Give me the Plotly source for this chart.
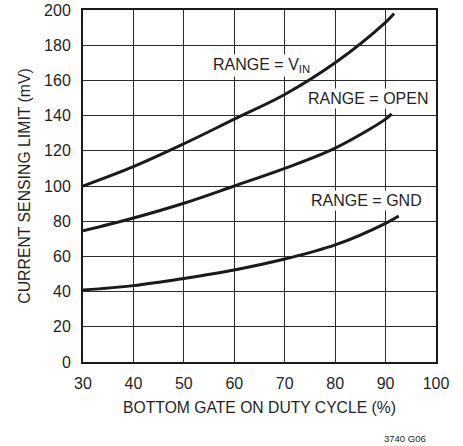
import plotly.graph_objects as go

duty = [30, 40, 50, 60, 70, 80, 90]
vin_x = duty + [91.7]
vin_y = [100, 111, 124, 138, 152, 170, 193, 198]
open_x = duty + [91.2]
open_y = [74.5, 81.8, 90.2, 100, 110, 121.5, 138, 141]
gnd_x = duty + [92.6]
gnd_y = [40.9, 43.4, 47.5, 52.3, 58.5, 66.5, 78.8, 83]

x_ticks = [30, 40, 50, 60, 70, 80, 90, 100]
y_ticks = [0, 20, 40, 60, 80, 100, 120, 140, 160, 180, 200]

FONT = "Liberation Sans, Arial, Helvetica, sans-serif"
TXT = "#231f20"

W, H = 463, 446
L, R, T, B = 83, 27, 10, 84
pw, ph = W - L - R, H - T - B

fig = go.Figure()
for xs, ys in [(vin_x, vin_y), (open_x, open_y), (gnd_x, gnd_y)]:
    fig.add_trace(go.Scatter(x=xs, y=ys, mode="lines",
                             line=dict(color="#1a1a1a", width=3, shape="spline", smoothing=1.0),
                             showlegend=False, hoverinfo="skip"))

axis_common = dict(showgrid=True, gridcolor="#2b2b2b", gridwidth=1,
                   showline=True, linecolor="#1a1a1a", linewidth=2, mirror=True,
                   zeroline=False, ticks="", automargin=False, ticklabeloverflow="allow",
                   tickfont=dict(family=FONT, size=16, color=TXT))

fig.update_xaxes(range=[30, 100], tickvals=x_ticks, ticklabelstandoff=6,
                 title_text="BOTTOM GATE ON DUTY CYCLE (%)", title_standoff=11,
                 title_font=dict(family=FONT, size=15.7, color=TXT), **axis_common)
fig.update_yaxes(range=[0, 200], tickvals=y_ticks, ticklabelstandoff=7,
                 title_text="CURRENT SENSING LIMIT (mV)", title_standoff=10,
                 title_font=dict(family=FONT, size=15.8, color=TXT), **axis_common)


def px(xp, yp):
    # reference pixel coords -> paper coords
    return (xp - L) / pw, (H - B - yp) / ph


ann_font = dict(family=FONT, size=16, color=TXT)
labels = [("RANGE = V<sub>IN</sub>", 261, 66), ("RANGE = OPEN", 368, 98.7), ("RANGE = GND", 366, 200)]
for text, xp, yp in labels:
    ax, ay = px(xp, yp)
    fig.add_annotation(x=ax, y=ay, xref="paper", yref="paper", text=text,
                       xanchor="center", yanchor="middle",
                       showarrow=False, font=ann_font, bgcolor="white", borderpad=1)

ax, ay = px(428, 438.5)
fig.add_annotation(x=ax, y=ay, xref="paper", yref="paper", text="3740 G06", showarrow=False,
                   xanchor="right", yanchor="middle", font=dict(family=FONT, size=9.5, color=TXT))

fig.update_layout(width=W, height=H, margin=dict(l=L, r=R, t=T, b=B),
                  plot_bgcolor="white", paper_bgcolor="white")
fig.write_html("out.html", config={"displayModeBar": False},
               post_script="document.body.style.margin='0';")
